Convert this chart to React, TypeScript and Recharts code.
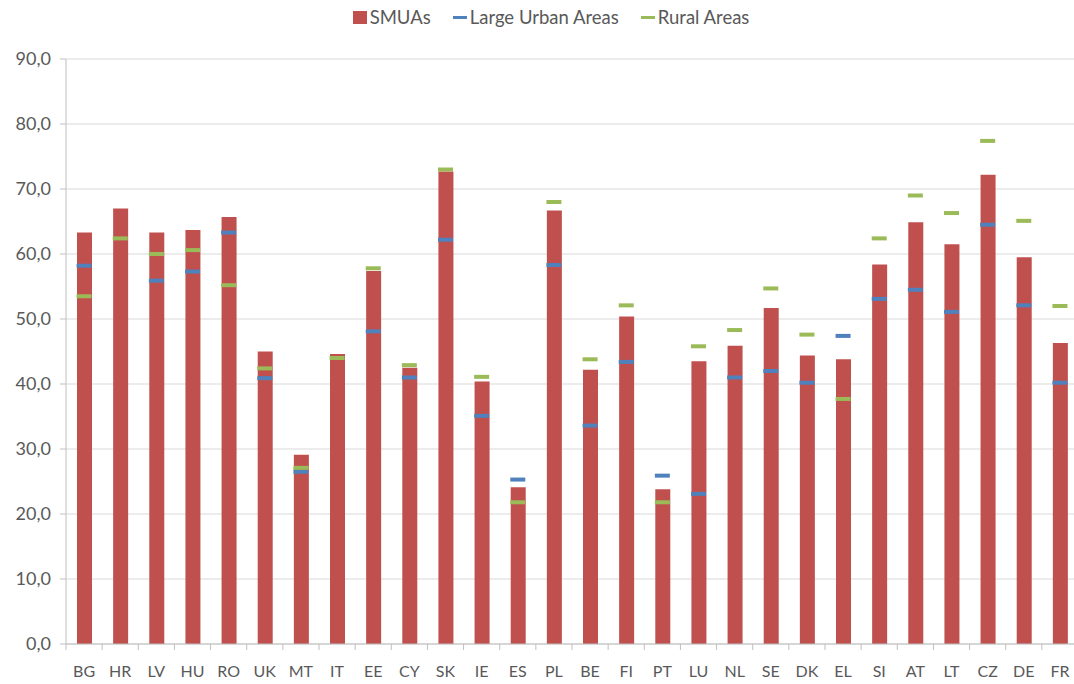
import React from 'react'
import { ComposedChart, Bar, Line, XAxis, YAxis, CartesianGrid } from 'recharts'

// Share of population by country: SMUAs as bars, the two area types as dash markers.

const countries = ['BG', 'HR', 'LV', 'HU', 'RO', 'UK', 'MT', 'IT', 'EE', 'CY', 'SK', 'IE', 'ES', 'PL', 'BE', 'FI', 'PT', 'LU', 'NL', 'SE', 'DK', 'EL', 'SI', 'AT', 'LT', 'CZ', 'DE', 'FR']
const smuas = [63.3, 67.0, 63.3, 63.7, 65.7, 45.0, 29.1, 44.6, 57.4, 42.5, 72.7, 40.4, 24.1, 66.7, 42.2, 50.4, 23.8, 43.5, 45.9, 51.7, 44.4, 43.8, 58.4, 64.9, 61.5, 72.2, 59.5, 46.3]
const largeUrban = [58.2, null, 55.9, 57.3, 63.3, 40.9, 26.5, null, 48.1, 41.0, 62.2, 35.1, 25.3, 58.3, 33.6, 43.4, 25.9, 23.1, 41.0, 42.0, 40.2, 47.4, 53.1, 54.5, 51.1, 64.5, 52.1, 40.2]
const rural = [53.5, 62.4, 60.0, 60.6, 55.2, 42.4, 27.1, 44.0, 57.8, 42.9, 73.0, 41.1, 21.8, 68.0, 43.8, 52.1, 21.8, 45.8, 48.3, 54.7, 47.6, 37.7, 62.4, 69.0, 66.3, 77.4, 65.1, 52.0]
const yTicks = [0, 10, 20, 30, 40, 50, 60, 70, 80, 90]

const RED = '#c0504d'
const BLUE = '#4f81bd'
const GREEN = '#9bbb59'
const TEXT = '#595959'
const AXIS = '#bfbfbf'

const W = 1080
const H = 684
const MARGIN = { top: 59, right: 2, bottom: 10, left: 0 }
const Y_AXIS_W = 66
const X_AXIS_H = 30
const AXIS_Y = H - MARGIN.bottom - X_AXIS_H
const BAND = (W - MARGIN.left - MARGIN.right - Y_AXIS_W) / countries.length

const data = countries.map((c, i) => ({
  country: c,
  smuas: smuas[i],
  urban: largeUrban[i],
  rural: rural[i],
}))

const legendItems = [
  { name: 'SMUAs', color: RED, square: true },
  { name: 'Large Urban Areas', color: BLUE, square: false },
  { name: 'Rural Areas', color: GREEN, square: false },
]

const dash = (color: string) => (props: any) => {
  const { cx, cy, index, value } = props
  if (value == null || cy == null || !isFinite(cy)) return <g key={index} />
  return <rect key={index} x={cx - 7.5} y={cy - 2} width={15} height={4} fill={color} />
}

const XTick = (props: any) => {
  const { x, payload, index } = props
  const left = x - BAND / 2
  return (
    <g>
      <line x1={left} x2={left} y1={AXIS_Y} y2={AXIS_Y + 6} stroke={AXIS} />
      {index === countries.length - 1 && (
        <line x1={left + BAND} x2={left + BAND} y1={AXIS_Y} y2={AXIS_Y + 6} stroke={AXIS} />
      )}
      <text x={x} y={AXIS_Y + 33} textAnchor="middle" fill={TEXT} fontSize={16}>
        {payload.value}
      </text>
    </g>
  )
}

export default function App() {
  return (
    <div style={{ position: 'absolute', left: 0, top: 0, width: 1074, height: 684, overflow: 'hidden', background: '#fff', fontFamily: 'Lato, sans-serif' }}>
      <div style={{ position: 'absolute', top: 6, left: 0, width: 1102, display: 'flex', justifyContent: 'center', gap: 22, fontSize: 18.5, color: TEXT }}>
        {legendItems.map((it) => (
          <div key={it.name} style={{ display: 'flex', alignItems: 'center', gap: 3 }}>
            <span style={{ display: 'inline-block', width: 14, height: it.square ? 13 : 3, background: it.color }} />
            <span>{it.name}</span>
          </div>
        ))}
      </div>
      <ComposedChart width={W} height={H} data={data} margin={MARGIN} barSize={15}>
        <CartesianGrid vertical={false} stroke="#d9d9d9" />
        <XAxis
          dataKey="country"
          height={X_AXIS_H}
          axisLine={{ stroke: AXIS }}
          tickLine={false}
          tick={<XTick />}
          interval={0}
        />
        <YAxis
          width={Y_AXIS_W}
          domain={[0, 90]}
          ticks={yTicks}
          axisLine={{ stroke: AXIS }}
          tickLine={{ stroke: AXIS }}
          tickSize={6}
          tickMargin={9}
          tick={{ fill: TEXT, fontSize: 18 }}
          tickFormatter={(v: number) => v.toFixed(1).replace('.', ',')}
        />
        <Bar dataKey="smuas" fill={RED} isAnimationActive={false} />
        <Line dataKey="urban" stroke="none" dot={dash(BLUE)} activeDot={false} isAnimationActive={false} />
        <Line dataKey="rural" stroke="none" dot={dash(GREEN)} activeDot={false} isAnimationActive={false} />
      </ComposedChart>
    </div>
  )
}
